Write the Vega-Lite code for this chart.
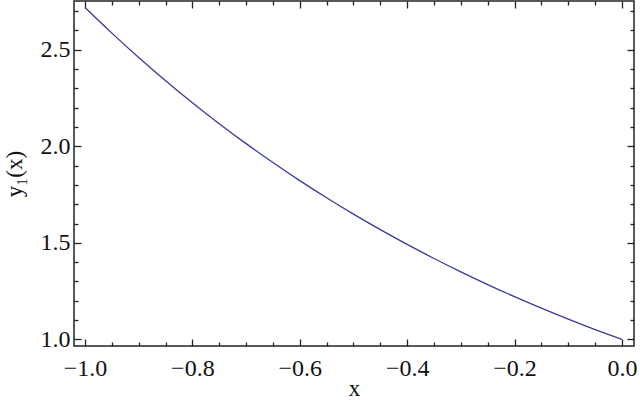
{
  "$schema": "https://vega.github.io/schema/vega-lite/v6.json",
  "autosize": "none",
  "width": 560,
  "height": 345,
  "padding": {"left": 74, "top": 1, "right": 6, "bottom": 58},
  "background": "white",
  "config": {
    "view": {"stroke": "#222", "strokeWidth": 1.5},
    "font": "Liberation Serif",
    "axis": {
      "labelFont": "Liberation Serif",
      "titleFont": "Liberation Serif",
      "labelFontSize": 24,
      "titleFontSize": 23,
      "titleFontWeight": "normal",
      "labelColor": "#111",
      "titleColor": "#111",
      "tickColor": "#222",
      "tickWidth": 1.3,
      "domain": false,
      "grid": false,
      "labelOverlap": false,
      "labelFlush": false
    }
  },
  "data": {
    "values": [
      {"x": -1.00, "y": 2.71828},
      {"x": -0.95, "y": 2.58571},
      {"x": -0.90, "y": 2.45960},
      {"x": -0.85, "y": 2.33965},
      {"x": -0.80, "y": 2.22554},
      {"x": -0.75, "y": 2.11700},
      {"x": -0.70, "y": 2.01375},
      {"x": -0.65, "y": 1.91554},
      {"x": -0.60, "y": 1.82212},
      {"x": -0.55, "y": 1.73325},
      {"x": -0.50, "y": 1.64872},
      {"x": -0.45, "y": 1.56831},
      {"x": -0.40, "y": 1.49182},
      {"x": -0.35, "y": 1.41907},
      {"x": -0.30, "y": 1.34986},
      {"x": -0.25, "y": 1.28403},
      {"x": -0.20, "y": 1.22140},
      {"x": -0.15, "y": 1.16183},
      {"x": -0.10, "y": 1.10517},
      {"x": -0.05, "y": 1.05127},
      {"x": 0.00, "y": 1.00000}
    ]
  },
  "layer": [
    {
      "mark": {"type": "line", "color": "#3a3a9e", "strokeWidth": 1.3, "interpolate": "monotone"},
      "encoding": {
        "x": {
          "field": "x", "type": "quantitative",
          "scale": {"domain": [-1.0205, 0.0225], "nice": false, "zero": false},
          "axis": {
            "orient": "bottom", "title": "x", "titlePadding": -6,
            "values": [-1.0, -0.95, -0.9, -0.85, -0.8, -0.75, -0.7, -0.65, -0.6, -0.55, -0.5, -0.45, -0.4, -0.35, -0.3, -0.25, -0.2, -0.15, -0.1, -0.05, 0.0],
            "labelExpr": "abs(datum.value*5 - round(datum.value*5)) < 1e-6 ? format(datum.value, '.1f') : ''",
            "tickSize": {"condition": {"test": "abs(datum.value*5 - round(datum.value*5)) < 1e-6", "value": -7}, "value": -4},
            "labelPadding": 17
          }
        },
        "y": {
          "field": "y", "type": "quantitative",
          "scale": {"domain": [0.966, 2.752], "nice": false, "zero": false},
          "axis": {
            "orient": "left", "title": "y₁(x)", "titlePadding": 14,
            "values": [1.0, 1.1, 1.2, 1.3, 1.4, 1.5, 1.6, 1.7, 1.8, 1.9, 2.0, 2.1, 2.2, 2.3, 2.4, 2.5, 2.6, 2.7],
            "labelExpr": "abs(datum.value*2 - round(datum.value*2)) < 1e-6 ? format(datum.value, '.1f') : ''",
            "tickSize": {"condition": {"test": "abs(datum.value*2 - round(datum.value*2)) < 1e-6", "value": -7}, "value": -4},
            "labelPadding": 11
          }
        }
      }
    },
    {
      "mark": {"type": "line", "opacity": 0},
      "encoding": {
        "x": {
          "field": "x", "type": "quantitative",
          "scale": {"domain": [-1.0205, 0.0225], "nice": false, "zero": false},
          "axis": {
            "orient": "top", "title": null, "labels": false,
            "values": [-1.0, -0.95, -0.9, -0.85, -0.8, -0.75, -0.7, -0.65, -0.6, -0.55, -0.5, -0.45, -0.4, -0.35, -0.3, -0.25, -0.2, -0.15, -0.1, -0.05, 0.0],
            "tickSize": {"condition": {"test": "abs(datum.value*5 - round(datum.value*5)) < 1e-6", "value": -7}, "value": -4}
          }
        },
        "y": {
          "field": "y", "type": "quantitative",
          "scale": {"domain": [0.966, 2.752], "nice": false, "zero": false},
          "axis": {
            "orient": "right", "title": null, "labels": false,
            "values": [1.0, 1.1, 1.2, 1.3, 1.4, 1.5, 1.6, 1.7, 1.8, 1.9, 2.0, 2.1, 2.2, 2.3, 2.4, 2.5, 2.6, 2.7],
            "tickSize": {"condition": {"test": "abs(datum.value*2 - round(datum.value*2)) < 1e-6", "value": -7}, "value": -4}
          }
        }
      }
    }
  ],
  "resolve": {"scale": {"x": "independent", "y": "independent"}}
}
